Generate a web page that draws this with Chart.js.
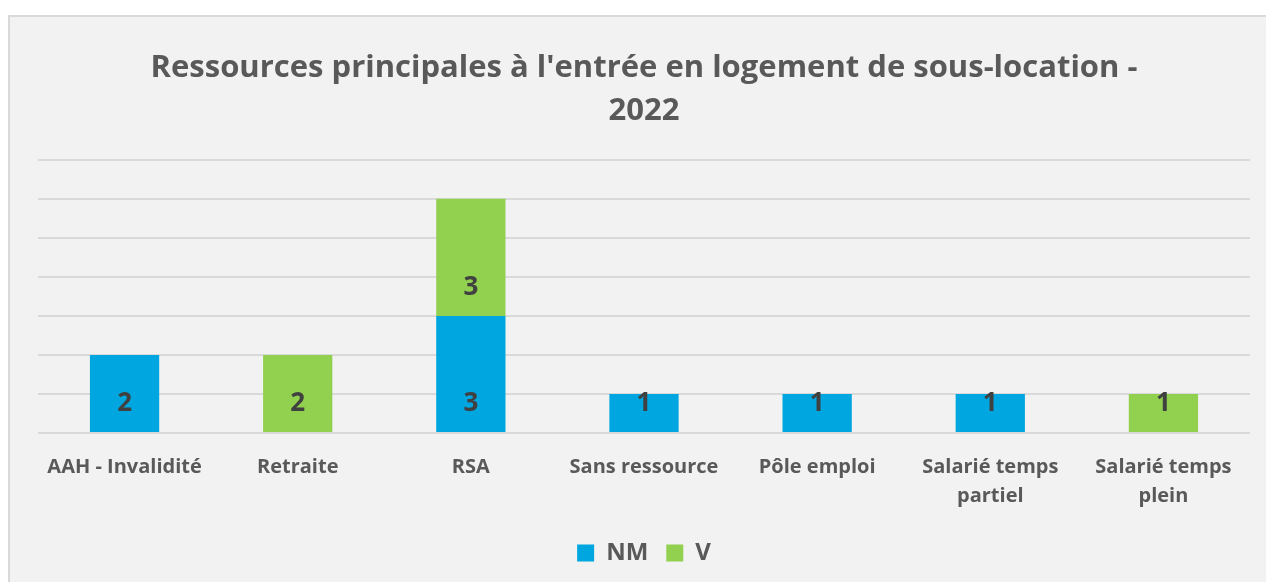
<!DOCTYPE html>
<html>
<head>
<meta charset="utf-8">
<script src="https://cdn.jsdelivr.net/npm/chart.js@4"></script>
<style>
  html, body { margin: 0; padding: 0; background: #ffffff; overflow: hidden; }
  #box {
    position: absolute; left: 8px; top: 15px;
    width: 1262px; height: 570px;
    border: 2px solid #d9d9d9; background: #f2f2f2;
  }
</style>
</head>
<body>
<div id="box"><canvas id="chart" width="1262" height="570"></canvas></div>
<script>
const categories = [
  'AAH - Invalidité',
  'Retraite',
  'RSA',
  'Sans ressource',
  'Pôle emploi',
  ['Salarié temps', 'partiel'],
  ['Salarié temps', 'plein']
];
const nmValues = [2, 0, 3, 1, 1, 1, 0];
const vValues = [0, 2, 3, 0, 0, 0, 1];
const titleLines = ["Ressources principales à l'entrée en logement de sous-location -", '2022'];

const FONT = "'Open Sans', sans-serif";

// labels drawn near the base of each segment, like Excel "inside base"
const barLabels = {
  id: 'barLabels',
  afterDatasetsDraw(chart) {
    const ctx = chart.ctx;
    ctx.save();
    ctx.font = 'bold 26px ' + FONT;
    ctx.fillStyle = '#404040';
    ctx.textAlign = 'center';
    ctx.textBaseline = 'middle';
    chart.data.datasets.forEach((ds, i) => {
      const meta = chart.getDatasetMeta(i);
      meta.data.forEach((bar, j) => {
        const v = ds.data[j];
        if (!v) return;
        ctx.fillText(String(v), bar.x, bar.base - 28);
      });
    });
    ctx.restore();
  }
};

new Chart(document.getElementById('chart'), {
  type: 'bar',
  data: {
    labels: categories,
    datasets: [
      { label: 'NM', data: nmValues, backgroundColor: '#00A6DF' },
      { label: 'V', data: vValues, backgroundColor: '#92D050' }
    ]
  },
  options: {
    responsive: false,
    animation: false,
    layout: { padding: { left: 28, right: 22, bottom: 12 } },
    datasets: { bar: { categoryPercentage: 1, barPercentage: 0.4 } },
    plugins: {
      title: {
        display: true,
        text: titleLines,
        color: '#595959',
        font: { family: FONT, size: 31, weight: 'bold', lineHeight: 1.4 },
        padding: { top: 29, bottom: 27 }
      },
      legend: {
        position: 'bottom',
        labels: {
          color: '#595959',
          font: { family: FONT, size: 24, weight: 'bold' },
          boxWidth: 17, boxHeight: 17, padding: 18
        }
      },
      tooltip: { enabled: false }
    },
    scales: {
      x: {
        stacked: true,
        grid: { display: false },
        border: { display: false },
        ticks: {
          color: '#595959',
          maxRotation: 0,
          autoSkip: false,
          padding: 12,
          font: { family: FONT, size: 20, weight: 'bold', lineHeight: 1.45 }
        }
      },
      y: {
        stacked: true,
        min: 0, max: 7,
        ticks: { display: false, stepSize: 1 },
        border: { display: false },
        grid: { color: '#d9d9d9', lineWidth: 2, drawTicks: false }
      }
    }
  },
  plugins: [barLabels]
});
</script>
</body>
</html>
